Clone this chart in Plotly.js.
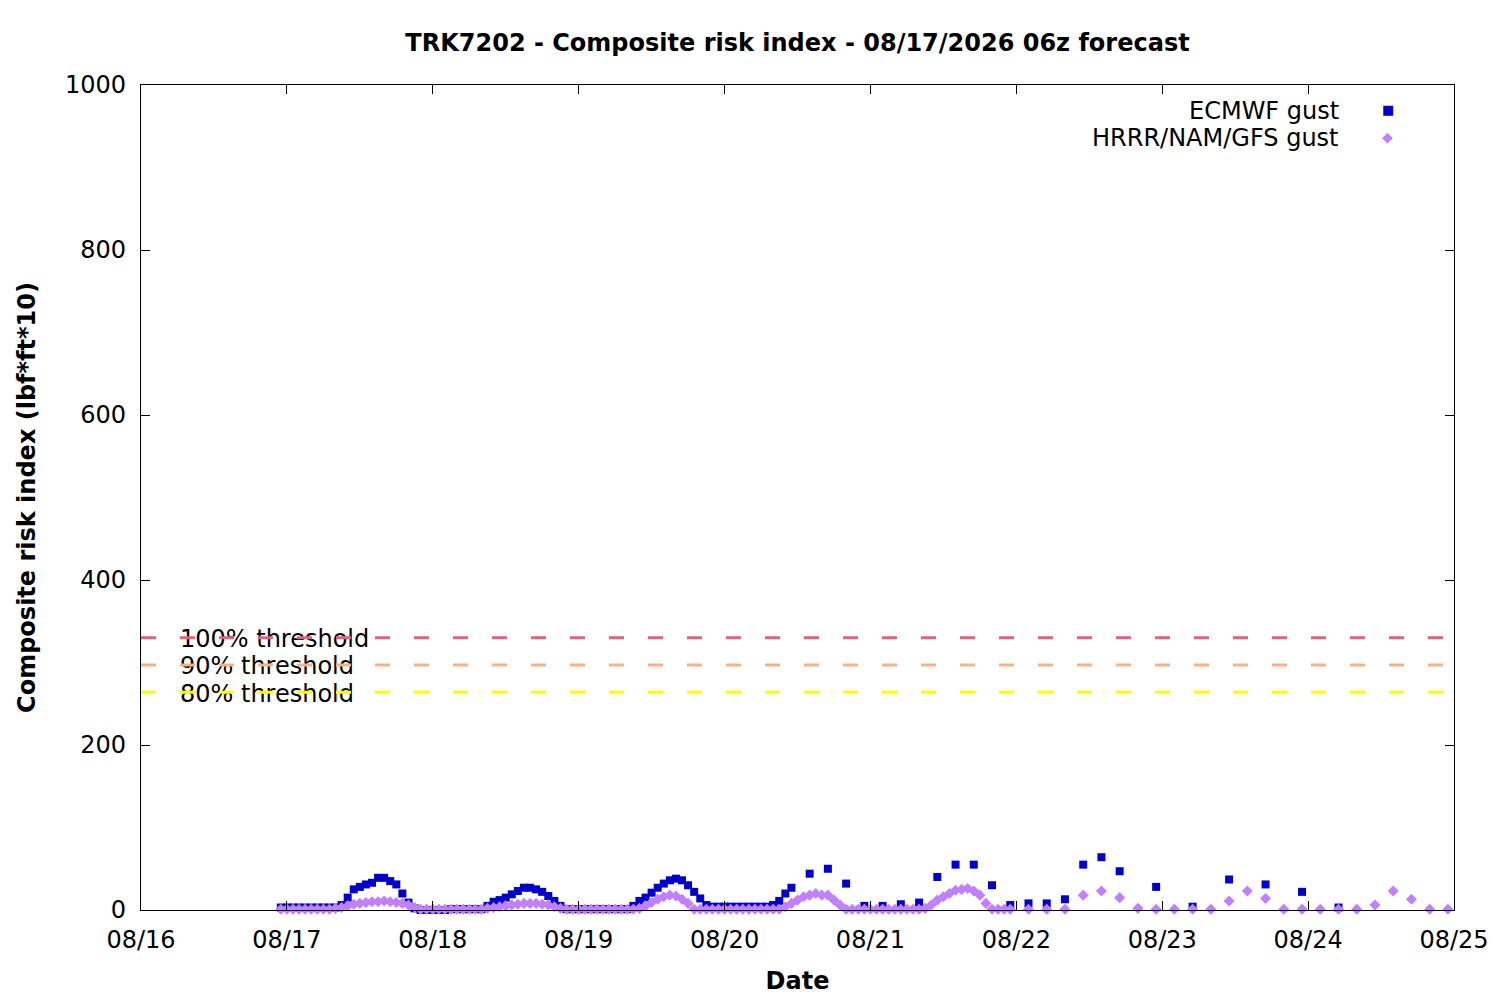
<!DOCTYPE html>
<html>
<head>
<meta charset="utf-8">
<script src="https://cdn.plot.ly/plotly-3.0.1.min.js"></script>
<style>
  body { margin: 0; background: #fff; }
  #chart { width: 1500px; height: 1000px; }
</style>
</head>
<body>
<div id="chart"></div>
<script>
// forecast values, hours counted from 08/17 00:00
const ecmwfHourly = [
  3, 3, 3, 3, 3, 3, 3, 3, 3, 3,
  6, 15, 25, 28, 31, 33, 39, 39, 35, 31, 20, 9, 2,
  0, 0, 0, 0, 0, 1, 1, 1, 1, 1, 1,
  5, 10, 12, 15, 19, 23, 27, 27, 25, 22, 17, 11, 5, 1,
  1, 1, 1, 1, 1, 1, 1, 1, 1, 1,
  5, 11, 15, 21, 27, 32, 36, 38, 36, 30, 22, 14, 6,
  4, 4, 4, 4, 4, 4, 4, 4, 4, 4,
  6, 11, 20, 27
];
const ecmwf3h = [44, 50, 32, 5, 5, 7, 9, 40, 55, 55, 30, 6, 8, 8, 13, 55, 64, 47];
const ecmwf6h = [28, 4, 37, 31, 22, 3];

const hrrrHourly = [
  1, 1, 1, 1, 1, 1, 1, 1, 1,
  2, 3, 5, 7, 8, 9, 10, 10, 11, 10, 9, 8, 6, 3,
  1, 1, 1, 1, 1, 1, 1, 1, 1, 1, 1,
  2, 3, 4, 5, 6, 7, 8, 8, 8, 7, 6, 4, 2,
  1, 1, 1, 1, 1, 1, 1, 1, 1, 1, 1, 1,
  2, 5, 9, 13, 16, 18, 17, 13, 8,
  1, 1, 1, 1, 1, 1, 1, 1, 1, 1, 1, 1, 1, 1, 1,
  4, 8, 12, 16, 18, 20, 18, 18, 12, 6,
  1, 1, 1, 1, 1, 1, 1, 1, 1, 1, 1, 1, 1,
  2, 6, 12, 16, 20, 24, 25, 26, 23, 18, 8,
  1, 1, 1, 1
];
const hrrr3h = [1, 1, 1, 18, 23, 15, 2, 1, 1, 1, 1, 11, 23, 14, 1, 1, 1, 1, 1, 6, 23, 13, 1, 1];

const thresholdNames = ['100% threshold', '90% threshold', '80% threshold'];
const thresholdValues = [330, 297, 264];
const thresholdColors = ['#e3607e', '#f7b386', '#ffff00'];

const dateRange = ['2026-08-16', '2026-08-25'];

// output schedule: start hour, step, count
function schedule(start, step, n) {
  const out = [];
  for (let i = 0; i < n; i++) {
    const t = new Date(Date.UTC(2026, 7, 17) + (start + i * step) * 3600000);
    out.push(t.toISOString().slice(0, 16).replace('T', ' '));
  }
  return out;
}

const ecmwfTimes = schedule(-1, 1, ecmwfHourly.length)
  .concat(schedule(86, 3, ecmwf3h.length))
  .concat(schedule(143, 6, ecmwf6h.length));
const hrrrTimes = schedule(-1, 1, hrrrHourly.length)
  .concat(schedule(122, 3, hrrr3h.length));

const font = { family: 'DejaVu Sans', size: 24, color: '#000' };
const boldFont = { family: 'DejaVu Sans', size: 24, weight: 'bold', color: '#000' };

const data = [];

// threshold labels first so the dashed lines are drawn over them
thresholdNames.forEach((name, i) => {
  data.push({
    x: ['2026-08-16 06:25'],
    y: [thresholdValues[i] - 4],
    mode: 'text',
    text: [name],
    textposition: 'middle right',
    textfont: font,
    cliponaxis: false,
    showlegend: false,
    hoverinfo: 'skip',
  });
});

thresholdNames.forEach((name, i) => {
  data.push({
    x: dateRange,
    y: [thresholdValues[i], thresholdValues[i]],
    mode: 'lines',
    name: name,
    line: { color: thresholdColors[i], width: 3, dash: '15px,24px' },
    showlegend: false,
  });
});

data.push({
  x: ecmwfTimes,
  y: ecmwfHourly.concat(ecmwf3h, ecmwf6h),
  mode: 'markers',
  name: 'ECMWF gust',
  marker: { symbol: 'square', size: 8, color: '#0000cd' },
  cliponaxis: false,
  showlegend: false,
});

data.push({
  x: hrrrTimes,
  y: hrrrHourly.concat(hrrr3h),
  mode: 'markers',
  name: 'HRRR/NAM/GFS gust',
  marker: { symbol: 'diamond', size: 8.5, color: '#c080ff' },
  cliponaxis: false,
  showlegend: false,
});

const layout = {
  width: 1500,
  height: 1000,
  margin: { l: 141, r: 46, t: 85, b: 90 },
  paper_bgcolor: '#fff',
  plot_bgcolor: '#fff',
  font: font,
  showlegend: false,
  title: {
    text: 'TRK7202 - Composite risk index - 08/17/2026 06z forecast',
    font: boldFont,
    x: 0.5,
    xref: 'paper',
    y: 0.957,
    yanchor: 'middle',
  },
  xaxis: {
    type: 'date',
    range: dateRange,
    tick0: '2026-08-16',
    dtick: 86400000,
    tickformat: '%m/%d',
    ticks: 'inside',
    ticklen: 9,
    tickcolor: '#000',
    showline: true,
    linecolor: '#000',
    linewidth: 1.2,
    mirror: 'ticks',
    showgrid: false,
    zeroline: false,
    ticklabelstandoff: 8,
    title: { text: 'Date', font: boldFont, standoff: 19 },
  },
  yaxis: {
    range: [0, 1000],
    dtick: 200,
    ticks: 'inside',
    ticklen: 9,
    tickcolor: '#000',
    showline: true,
    linecolor: '#000',
    linewidth: 1.2,
    mirror: 'ticks',
    showgrid: false,
    zeroline: false,
    ticklabelstandoff: 9,
    title: { text: 'Composite risk index (lbf*ft*10)', font: boldFont, standoff: 22 },
  },
  annotations: [
    { text: 'ECMWF gust', xref: 'paper', yref: 'paper', x: 0.9139, y: 0.9685,
      xanchor: 'right', yanchor: 'middle', showarrow: false, font: font },
    { text: 'HRRR/NAM/GFS gust', xref: 'paper', yref: 'paper', x: 0.9139, y: 0.9358,
      xanchor: 'right', yanchor: 'middle', showarrow: false, font: font },
    { text: '■', xref: 'paper', yref: 'paper', x: 0.9497, y: 0.9697,
      xanchor: 'center', yanchor: 'middle', showarrow: false,
      font: { family: 'DejaVu Sans', size: 13, color: '#0000cd' } },
    { text: '◆', xref: 'paper', yref: 'paper', x: 0.9497, y: 0.9370,
      xanchor: 'center', yanchor: 'middle', showarrow: false,
      font: { family: 'DejaVu Sans', size: 14, color: '#c080ff' } },
  ],
};

Plotly.newPlot('chart', data, layout, { displayModeBar: false });
</script>
</body>
</html>
